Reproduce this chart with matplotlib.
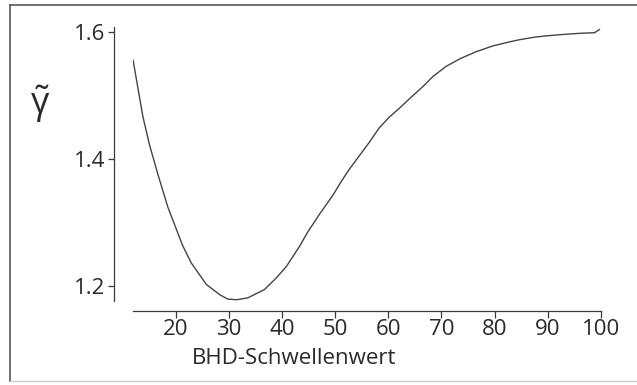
import matplotlib
matplotlib.use("Agg")
import matplotlib.pyplot as plt
from matplotlib.lines import Line2D

# threshold (BHD-Schwellenwert) vs. gamma-tilde
schwelle = [12.0, 13.85, 15.1, 16.7, 18.55, 21.3, 22.95, 25.8, 28.3, 29.8,
            31.5, 33.6, 36.7, 38.9, 40.8, 43.3, 44.8, 47.0, 49.6, 51.2,
            52.7, 55.0, 56.5, 58.3, 60.2, 62.1, 64.0, 66.5, 68.4, 70.9,
            73.5, 76.5, 79.6, 82.5, 84.7, 87.5, 89.7, 92.5, 95.9, 98.8, 99.7]
gamma = [1.556, 1.467, 1.422, 1.375, 1.324, 1.264, 1.236, 1.202, 1.186, 1.179,
         1.178, 1.181, 1.194, 1.212, 1.230, 1.262, 1.284, 1.312, 1.343, 1.365,
         1.384, 1.410, 1.427, 1.449, 1.466, 1.480, 1.495, 1.514, 1.530, 1.546,
         1.558, 1.569, 1.578, 1.584, 1.588, 1.592, 1.594, 1.596, 1.598, 1.599, 1.604]

xticks = [20, 30, 40, 50, 60, 70, 80, 90, 100]
yticks = [1.2, 1.4, 1.6]

ink = '#3a3a3a'
plt.rcParams['font.family'] = ['Open Sans', 'DejaVu Sans']
plt.rcParams['mathtext.fontset'] = 'custom'
plt.rcParams['mathtext.rm'] = 'Open Sans'
plt.rcParams['mathtext.it'] = 'Open Sans'

fig = plt.figure(figsize=(6.37, 3.85), dpi=100)
ax = fig.add_axes([132.5/637, 1-301/385, (601-132.5)/637, (301-27)/385])

ax.plot(schwelle, gamma, color='#444444', lw=1.0)

ax.set_xlim(11.9, 100)
ax.set_ylim(1.176, 1.608)
ax.set_xticks(xticks)
ax.set_yticks(yticks)
ax.set_yticklabels(['1.2', '1.4', '1.6'])

for s in ['top', 'right']:
    ax.spines[s].set_visible(False)
ax.spines['left'].set_position(('outward', 13.3))
ax.spines['bottom'].set_position(('outward', 7.2))
for s in ['left', 'bottom']:
    ax.spines[s].set_color(ink)
    ax.spines[s].set_linewidth(0.9)

ax.tick_params(axis='both', colors=ink, labelcolor='#2a2a2a', labelsize=16,
               width=0.9, direction='out')
ax.tick_params(axis='y', length=4.5, pad=2)
ax.tick_params(axis='x', length=5, pad=1)

fig.text(192/637, 1-364/385, 'BHD-Schwellenwert', fontsize=16, color='#2a2a2a',
         ha='left', va='baseline')
fig.text(40/637, 1-104/385, r'$\tilde{\mathrm{\gamma}}$', fontsize=26, color='#2a2a2a',
         ha='center', va='center')

# frame round the figure (left, top, bottom)
fig.add_artist(Line2D([10/637, 10/637], [1-5/385, 1-381/385], color='#555555', lw=1.2,
                      transform=fig.transFigure))
fig.add_artist(Line2D([10/637, 1.0], [1-5/385, 1-5/385], color='#555555', lw=1.2,
                      transform=fig.transFigure))
fig.add_artist(Line2D([10/637, 1.0], [1-381/385, 1-381/385], color='#cccccc', lw=1.0,
                      transform=fig.transFigure))

fig.savefig('out.png', dpi=100)
